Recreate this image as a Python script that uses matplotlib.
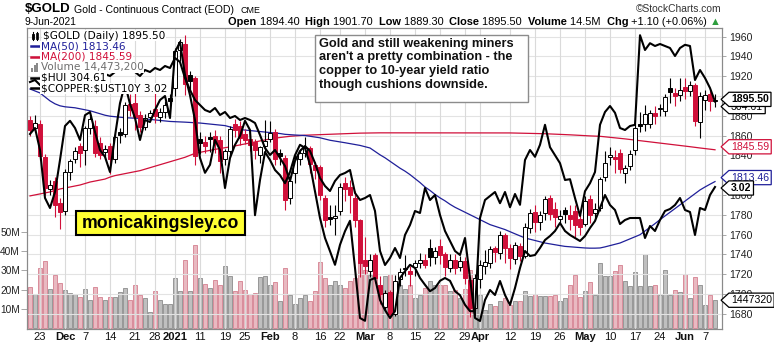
import numpy as np
import pandas as pd
import matplotlib
matplotlib.use("Agg")
import matplotlib.pyplot as plt
from matplotlib.path import Path
from matplotlib.patches import Rectangle
from matplotlib.lines import Line2D
from matplotlib.transforms import blended_transform_factory, offset_copy

plt.rcParams['font.family'] = ['Liberation Sans', 'DejaVu Sans']

# ---- data (one value per trading day) ----
start_date, end_date = '2020-11-19', '2021-06-09'
holidays = ['2020-11-26', '2020-12-25', '2021-01-01', '2021-01-18',
            '2021-02-15', '2021-04-02', '2021-05-31']

opens = [1876, 1868, 1872, 1838, 1806, 1814, 1792, 1784, 1823, 1836,
         1849, 1845, 1868, 1870, 1852, 1843, 1849, 1836, 1864, 1862,
         1892, 1893, 1881, 1869, 1879, 1887, 1879, 1884, 1898, 1908,
         1946, 1952, 1921, 1918, 1856, 1853, 1858, 1860, 1855, 1836,
         1844, 1872, 1870, 1862, 1856, 1853, 1840, 1849, 1856, 1864,
         1842, 1837, 1797, 1822, 1836, 1842, 1847, 1830, 1828, 1797,
         1778, 1777, 1784, 1812, 1808, 1797, 1775, 1734, 1723, 1739,
         1709, 1687, 1702, 1680, 1715, 1725, 1723, 1727, 1731, 1734,
         1746, 1737, 1748, 1740, 1726, 1734, 1727, 1733, 1714, 1686,
         1715, 1728, 1731, 1746, 1741, 1759, 1746, 1735, 1748, 1738,
         1767, 1783, 1773, 1782, 1797, 1786, 1776, 1785, 1780, 1784,
         1776, 1771, 1796, 1782, 1787, 1818, 1838, 1838, 1842, 1822,
         1829, 1845, 1872, 1872, 1872, 1883, 1887, 1885, 1908, 1903,
         1901, 1909, 1905, 1911, 1874, 1896, 1902, 1894.4]
highs = [1880, 1881, 1876, 1841, 1815, 1818, 1797, 1826, 1836, 1848,
         1852, 1870, 1880, 1876, 1858, 1850, 1852, 1862, 1868, 1894,
         1902, 1906, 1885, 1882, 1886, 1906, 1888, 1895, 1902, 1948,
         1957, 1962, 1925, 1920, 1864, 1860, 1864, 1866, 1860, 1846,
         1870, 1877, 1875, 1867, 1862, 1856, 1849, 1876, 1875, 1867,
         1846, 1840, 1818, 1841, 1846, 1859, 1849, 1833, 1830, 1800,
         1790, 1790, 1812, 1818, 1815, 1804, 1776, 1757, 1740, 1741,
         1718, 1704, 1704, 1719, 1726, 1739, 1728, 1734, 1741, 1740,
         1755, 1747, 1755, 1742, 1740, 1740, 1738, 1737, 1717, 1720,
         1734, 1744, 1748, 1748, 1764, 1762, 1750, 1752, 1751, 1772,
         1786, 1790, 1784, 1799, 1800, 1793, 1785, 1788, 1790, 1790,
         1782, 1799, 1800, 1792, 1818, 1844, 1848, 1845, 1846, 1830,
         1845, 1872, 1884, 1891, 1886, 1890, 1892, 1902, 1918, 1908,
         1918, 1918, 1915, 1913, 1904, 1906, 1907, 1901.7]
lows = [1860, 1864, 1835, 1800, 1800, 1778, 1766, 1780, 1815, 1832,
        1828, 1830, 1862, 1838, 1836, 1836, 1821, 1832, 1852, 1858,
        1880, 1866, 1864, 1866, 1876, 1873, 1874, 1878, 1887, 1900,
        1935, 1901, 1905, 1830, 1841, 1842, 1843, 1842, 1822, 1830,
        1838, 1859, 1850, 1851, 1844, 1836, 1832, 1842, 1853, 1830,
        1830, 1785, 1791, 1812, 1830, 1838, 1822, 1816, 1795, 1768,
        1770, 1760, 1780, 1794, 1782, 1768, 1717, 1720, 1717, 1711,
        1690, 1684, 1676, 1678, 1708, 1718, 1708, 1718, 1726, 1726,
        1728, 1730, 1730, 1718, 1722, 1720, 1723, 1710, 1677, 1678,
        1706, 1720, 1726, 1732, 1735, 1731, 1725, 1730, 1733, 1736,
        1762, 1763, 1765, 1775, 1775, 1768, 1771, 1772, 1765, 1757,
        1760, 1769, 1772, 1775, 1784, 1814, 1830, 1822, 1822, 1812,
        1825, 1840, 1864, 1865, 1868, 1872, 1880, 1880, 1893, 1890,
        1895, 1897, 1900, 1870, 1857, 1886, 1885, 1889.3]
closes = [1866, 1873, 1839, 1807, 1810, 1790, 1783, 1823, 1834, 1844,
          1842, 1868, 1877, 1842, 1840, 1846, 1836, 1859, 1861, 1891,
          1886, 1879, 1869, 1878, 1883, 1880, 1884, 1891, 1895, 1945,
          1954, 1912, 1915, 1839, 1852, 1849, 1856, 1852, 1834, 1844,
          1867, 1866, 1857, 1855, 1850, 1845, 1848, 1854, 1863, 1836,
          1839, 1795, 1814, 1837, 1842, 1847, 1831, 1825, 1800, 1775,
          1776, 1779, 1808, 1806, 1800, 1775, 1731, 1728, 1734, 1716,
          1700, 1701, 1680, 1713, 1722, 1726, 1720, 1731, 1734, 1729,
          1737, 1743, 1739, 1727, 1734, 1726, 1733, 1716, 1686, 1716,
          1729, 1732, 1745, 1742, 1759, 1746, 1736, 1749, 1738, 1768,
          1782, 1773, 1780, 1796, 1781, 1778, 1779, 1781, 1776, 1770,
          1768, 1794, 1780, 1786, 1816, 1832, 1840, 1836, 1826, 1827,
          1841, 1868, 1870, 1882, 1883, 1880, 1888, 1899, 1904, 1900,
          1906, 1905, 1911, 1875, 1900, 1901, 1894.4, 1895.5]
# volume in millions of contracts
volumes = [21.2, 17.5, 31.0, 34.9, 20.1, 27.4, 23.3, 19.8, 18.1, 17.5,
           16.3, 20.1, 14.6, 21.2, 16.0, 14.6, 16.3, 16.3, 18.9, 20.6,
           14.6, 22.4, 17.2, 15.8, 8.3, 19.2, 14.5, 12.6, 12.6, 25.9,
           19.2, 35.3, 19.2, 43.2, 26.0, 22.7, 20.8, 24.9, 22.5, 32.2,
           27.2, 19.2, 24.4, 20.0, 17.5, 18.2, 26.4, 27.2, 22.6, 24.0,
           14.0, 31.3, 17.4, 12.5, 15.6, 17.4, 13.9, 19.1, 34.2, 26.0,
           22.6, 24.3, 22.6, 21.0, 24.5, 26.0, 34.0, 30.0, 27.7, 27.7,
           22.6, 26.9, 28.0, 16.5, 22.6, 20.5, 22.6, 15.6, 17.4, 20.8,
           24.3, 22.6, 22.6, 22.6, 19.1, 20.0, 15.6, 20.5, 30.4, 20.8,
           17.4, 9.5, 12.5, 11.2, 13.9, 15.6, 11.8, 14.2, 14.2, 19.1,
           16.5, 17.7, 16.5, 16.9, 16.5, 17.4, 13.9, 15.6, 22.6, 27.5,
           16.0, 19.4, 23.7, 17.4, 33.9, 26.9, 27.0, 29.9, 32.6, 24.3,
           21.7, 29.2, 21.7, 38.5, 21.7, 22.6, 17.4, 30.4, 17.4, 20.0,
           18.7, 28.1, 15.6, 26.4, 22.6, 11.8, 17.4, 14.4732]
ma50 = [1907, 1905, 1903, 1899, 1895, 1892, 1890, 1889, 1888.5, 1888,
        1887, 1886, 1885, 1883.5, 1882, 1880.5, 1879.5, 1879, 1878.5, 1878,
        1877.7, 1877.5, 1877.3, 1876.8, 1876.3, 1875.8, 1875.2, 1874.7, 1874.2, 1874,
        1873.8, 1873.5, 1873.2, 1872.9, 1872.6, 1872.1, 1871.6, 1871.1, 1870.6, 1870,
        1868.7, 1867.3, 1866, 1865.5, 1865, 1864.5, 1864, 1863.5, 1863, 1862.5,
        1862, 1861.2, 1860.8, 1860.5, 1860.2, 1860, 1859.2, 1858.5, 1857.7, 1856.5,
        1855.2, 1854.4, 1853.6, 1852.7, 1851.8, 1851, 1850, 1848.7, 1847.4, 1844,
        1840.5, 1837.5, 1834, 1830.5, 1827, 1824, 1820.5, 1816.5, 1812.5, 1808,
        1804.5, 1800.5, 1797, 1794, 1790.5, 1787.5, 1785, 1782.5, 1780, 1777.5,
        1775, 1772.5, 1770, 1768.3, 1766.6, 1765, 1762.8, 1760.7, 1758.6, 1756.5,
        1755.2, 1754, 1752.7, 1751.4, 1750.5, 1749.7, 1748.8, 1748, 1747.6, 1747.2,
        1746.8, 1746.4, 1746.2, 1746.2, 1746.4, 1747.5, 1748.8, 1750, 1751.4, 1753.5,
        1755.5, 1757.6, 1759.8, 1763.5, 1767.3, 1771, 1775, 1778.7, 1782.5, 1786.2,
        1790, 1793.7, 1797.5, 1801.2, 1805, 1808, 1810.8, 1813.46]
ma200 = [1799, 1800, 1801, 1802, 1803, 1804.5, 1806, 1807, 1808, 1809,
         1810, 1811.5, 1813, 1814, 1815, 1816, 1818, 1819.5, 1820.5, 1821.5,
         1822.5, 1823.5, 1824.5, 1826, 1827.5, 1829, 1830.5, 1832, 1833.5, 1835,
         1836.5, 1838, 1840, 1842, 1843, 1844, 1845, 1846, 1846.8, 1847.5,
         1848.5, 1849.5, 1850.5, 1851.5, 1852.5, 1853.5, 1854.5, 1855.5, 1856.5, 1857.3,
         1858, 1858.6, 1859.2, 1859.6, 1860, 1860.3, 1860.5, 1860.7, 1860.9, 1861,
         1861.2, 1861.4, 1861.6, 1861.8, 1862, 1862.2, 1862.4, 1862.5, 1862.6, 1862.7,
         1862.7, 1862.7, 1862.7, 1862.7, 1862.7, 1862.7, 1862.7, 1862.7, 1862.7, 1862.7,
         1862.7, 1862.7, 1862.7, 1862.7, 1862.7, 1862.7, 1862.7, 1862.7, 1862.7, 1862.7,
         1862.7, 1862.7, 1862.7, 1862.7, 1862.7, 1862.7, 1862.6, 1862.5, 1862.4, 1862.3,
         1862.2, 1862.1, 1862, 1861.8, 1861.6, 1861.4, 1861.2, 1861, 1860.7, 1860.4,
         1860.1, 1859.8, 1859.6, 1859.4, 1859.2, 1858.7, 1858.2, 1857.7, 1857.2, 1856.6,
         1856, 1855.4, 1854.8, 1854.2, 1853.6, 1853, 1852.4, 1851.8, 1851.2, 1850.6,
         1850, 1849.3, 1848.7, 1848, 1847.4, 1846.8, 1846.2, 1845.59]
hui = [296.5, 298.0, 292.5, 280.5, 278.0, 282.0, 290.0, 298.5, 299.8, 298.0,
       295.0, 301.2, 302.0, 297.0, 292.5, 290.8, 287.0, 296.0, 304.2, 309.0,
       304.0, 300.5, 295.0, 300.0, 299.5, 302.5, 305.0, 306.0, 300.5, 317.0,
       319.5, 311.2, 306.2, 300.0, 290.5, 286.8, 288.8, 295.0, 292.5, 283.0,
       290.5, 293.8, 296.0, 299.8, 297.5, 276.2, 285.0, 292.0, 290.0, 287.5,
       286.2, 284.2, 287.0, 291.2, 293.8, 293.0, 288.8, 282.2, 275.5, 270.5,
       267.2, 263.8, 268.8, 272.2, 274.8, 263.0, 250.5, 249.8, 260.0, 260.5,
       255.0, 252.5, 250.5, 252.2, 260.5, 262.2, 263.8, 263.0, 260.5, 258.8,
       257.2, 258.0, 259.8, 260.5, 259.8, 257.2, 256.2, 253.8, 252.2, 252.2,
       275.5, 280.0, 281.0, 282.0, 279.2, 282.0, 278.2, 281.5, 278.8, 290.0,
       292.5, 290.8, 293.8, 298.8, 293.2, 291.2, 289.2, 285.0, 285.2, 280.5,
       276.0, 282.2, 284.2, 287.0, 298.8, 302.0, 303.5, 301.8, 298.0, 297.5,
       298.5, 298.8, 321.2, 317.5, 319.2, 318.5, 319.0, 318.5, 318.0, 316.0,
       318.0, 318.8, 318.5, 310.0, 312.5, 310.5, 308.0, 304.61]
copper_ratio = [3.545, 3.555, 3.530, 3.535, 3.515, 3.505, 3.495, 3.525, 3.555, 3.565,
                3.545, 3.575, 3.585, 3.555, 3.565, 3.585, 3.575, 3.595, 3.615, 3.630,
                3.605, 3.595, 3.575, 3.605, 3.595, 3.615, 3.605, 3.625, 3.615, 3.665,
                3.645, 3.565, 3.505, 3.455, 3.430, 3.405, 3.395, 3.415, 3.380, 3.395,
                3.365, 3.375, 3.355, 3.365, 3.355, 3.340, 3.280, 3.215, 3.180, 3.205,
                3.165, 3.125, 3.050, 3.150, 3.200, 3.225, 3.200, 3.140, 3.065, 3.025,
                3.000, 3.050, 3.080, 3.090, 3.105, 2.990, 2.955, 2.965, 2.980, 2.900,
                2.700, 2.630, 2.665, 2.715, 2.665, 2.780, 2.830, 2.900, 2.890, 3.015,
                2.955, 2.980, 2.880, 2.800, 2.750, 2.700, 2.680, 2.765, 2.565, 2.365,
                2.350, 2.455, 2.505, 2.480, 2.550, 2.480, 2.430, 2.515, 2.615, 2.700,
                2.675, 2.680, 2.715, 2.755, 2.775, 2.800, 2.840, 2.800, 2.780, 2.765,
                2.750, 2.775, 2.815, 2.850, 2.915, 2.980, 2.930, 2.905, 2.835, 2.855,
                2.865, 2.865, 2.865, 2.765, 2.825, 2.800, 2.855, 2.900, 2.910, 2.930,
                2.965, 2.905, 2.895, 2.780, 2.915, 2.905, 2.980, 3.02]

tick_dates = ['2020-11-23', '2020-12-01', '2020-12-07', '2020-12-14', '2020-12-21',
              '2020-12-28', '2021-01-04', '2021-01-11', '2021-01-19', '2021-01-25',
              '2021-02-01', '2021-02-08', '2021-02-16', '2021-02-22', '2021-03-01',
              '2021-03-08', '2021-03-15', '2021-03-22', '2021-03-29', '2021-04-01',
              '2021-04-12', '2021-04-19', '2021-04-26', '2021-05-03', '2021-05-10',
              '2021-05-17', '2021-05-24', '2021-06-01', '2021-06-07']
tick_labels = ['23', 'Dec', '7', '14', '21', '28', '2021', '11', '19', '25', 'Feb', '8',
               '16', '22', 'Mar', '8', '15', '22', '29', 'Apr', '12', '19', '26', 'May',
               '10', '17', '24', 'Jun', '7']
month_labels = {'Dec', '2021', 'Feb', 'Mar', 'Apr', 'May', 'Jun'}

note = ("Gold and still weakening miners\n"
        "aren't a pretty combination - the\n"
        "copper to 10-year yield ratio\n"
        "though cushions downside.")

RED = '#d0103a'
NAVY = '#1f1f99'

# ---- layout, in pixels of the 774x345 picture ----
W, H = 774, 345
fig = plt.figure(figsize=(W / 100, H / 100), dpi=100)
fig.patch.set_facecolor('white')


def fx(px):
    return px / W


def fy(py):
    return 1 - py / H


L, R, T, B = 27, 722, 28, 329
ax_vol = fig.add_axes([fx(L), fy(B), (R - L) / W, (B - T) / H])
ax = ax_vol.twinx()
ax_hui = ax_vol.twinx()
ax_cu = ax_vol.twinx()

dates = pd.bdate_range(start_date, end_date).drop(pd.to_datetime(holidays))
tick_idx = [dates.get_loc(pd.Timestamp(d)) for d in tick_dates]

o, hi, lo, c = (np.array(v, dtype=float) for v in (opens, highs, lows, closes))
n = len(c)
xs = np.arange(n)
up = np.r_[False, c[1:] >= c[:-1]]

# volume bars (behind everything)
ax_vol.bar(xs, volumes, width=0.82,
           color=np.where(up, '#bfbfbf', '#e9b9c1'),
           edgecolor=np.where(up, '#8c8c8c', '#d4808f'), linewidth=0.6, zorder=2)
ax_vol.set_facecolor('white')

# grid on the price panel
for p in range(1680, 1961, 20):
    ax.axhline(p, color='#e3e3e3', lw=0.8, zorder=0)
for t in tick_idx:
    ax.axvline(t, color='#dadada', lw=0.8, zorder=0)

# moving averages
ax.plot(xs, ma200, color=RED, lw=0.9, zorder=2)
ax.plot(xs, ma50, color=NAVY, lw=0.9, zorder=2)

# candles
for i in range(n):
    col = 'black' if up[i] else RED
    ax.vlines(i, lo[i], hi[i], color=col, lw=0.8, zorder=3)
    bottom = min(o[i], c[i])
    height = max(abs(c[i] - o[i]), 0.8)
    face = 'white' if c[i] > o[i] else col
    ax.add_patch(Rectangle((i - 0.35, bottom), 0.7, height, facecolor=face,
                           edgecolor=col, lw=0.7, zorder=4))

# overlays on their own hidden scales
ax_hui.plot(xs, hui, color='black', lw=1.5)
ax_cu.plot(xs, copper_ratio, color='black', lw=1.5)

ax_vol.set_xlim(-0.6, n + 0.4)
ax.set_ylim(1664.55, 1968.6)
ax_vol.set_ylim(-0.52, 156.25)
ax_hui.set_ylim(247.75, 323.0)
ax_cu.set_ylim(2.31, 3.815)
ax_hui.set_axis_off()
ax_cu.set_axis_off()

ax.set_yticks(range(1680, 1961, 20))
ax.tick_params(axis='y', length=3, width=0.6, color='#999999', pad=2,
               labelsize=7.6, labelcolor='#222222')
ax_vol.set_yticks([10, 20, 30, 40, 50])
ax_vol.set_yticklabels(['10M', '20M', '30M', '40M', '50M'])
ax_vol.tick_params(axis='y', length=4, width=0.6, color='#999999', pad=1,
                   labelsize=7.3, labelcolor='#222222')
ax_vol.set_xticks(tick_idx)
ax_vol.set_xticklabels(tick_labels)
ax_vol.tick_params(axis='x', length=0, pad=2.5, labelsize=8, labelcolor='#111111')
for lbl, txt in zip(ax_vol.get_xticklabels(), tick_labels):
    if txt in month_labels:
        lbl.set_fontweight('bold')
for a in (ax_vol, ax):
    for s in a.spines.values():
        s.set_color('#8a8a8a')
        s.set_linewidth(0.8)


# value tags on the right edge
def tag_path(x0, y0, width, height, mutation_size):
    pad = 0.2 * mutation_size
    x0, y0 = x0 - pad, y0 - pad
    width, height = width + 2 * pad, height + 2 * pad
    tip = 0.55 * height
    verts = [(x0 - tip, y0 + height / 2), (x0, y0), (x0 + width, y0),
             (x0 + width, y0 + height), (x0, y0 + height), (x0 - tip, y0 + height / 2)]
    return Path(verts, closed=True)


volume_last = int(round(volumes[-1] * 1e6))
# (axes, value, text, colour, weight, vertical nudge in pixels to keep tags apart)
tags = [(ax_hui, hui[-1], f"{hui[-1]:.2f}", 'black', 'normal', -5),
        (ax, c[-1], f"{c[-1]:.2f}", 'black', 'bold', 1),
        (ax, ma200[-1], f"{ma200[-1]:.2f}", RED, 'normal', 3),
        (ax, ma50[-1], f"{ma50[-1]:.2f}", NAVY, 'normal', 4),
        (ax_cu, copper_ratio[-1], f"{copper_ratio[-1]:.2f}", 'black', 'bold', -1),
        (ax_vol, volumes[-1], str(volume_last)[:7], 'black', 'normal', 0)]
tag_x = 1 + 9.0 / (R - L)
for a, v, s, col, wt, dy in tags:
    trans = blended_transform_factory(ax_cu.transAxes, a.transData)
    ax_cu.text(tag_x, v, s, transform=offset_copy(trans, fig=fig, y=dy, units='dots'),
               ha='left', va='center', fontsize=7.6, fontweight=wt, color=col,
               clip_on=False, zorder=10,
               bbox=dict(boxstyle=tag_path, facecolor='white', edgecolor=col, linewidth=0.9))

# legend block in the top-left corner
leg_font = 'DejaVu Sans'
rows = [(35.7, f"\\$GOLD (Daily) {c[-1]:.2f}", 'black', 43),
        (46.2, f"MA(50) {ma50[-1]:.2f}", NAVY, 41),
        (56.7, f"MA(200) {ma200[-1]:.2f}", RED, 41),
        (67.2, f"Volume {volume_last:,}", '#6e6e6e', 41),
        (77.7, f"\\$HUI {hui[-1]:.2f}", 'black', 41),
        (88.2, f"\\$COPPER:\\$UST10Y {copper_ratio[-1]:.2f}", 'black', 41)]
for yy, s, col, x0 in rows:
    fig.text(fx(x0), fy(yy), s, fontsize=7.6, family=leg_font, color=col, va='center',
             bbox=dict(boxstyle='square,pad=0.05', facecolor='white', edgecolor='none'))
for yy, col in [(46.2, NAVY), (56.7, RED), (77.7, 'black'), (88.2, 'black')]:
    fig.add_artist(Line2D([fx(31), fx(39)], [fy(yy), fy(yy)], color=col, lw=1.8))
# tiny candle icon and volume icon
fig.add_artist(Line2D([fx(33), fx(33)], [fy(31.5), fy(40)], color='black', lw=0.8))
fig.add_artist(Rectangle((fx(31.8), fy(38.5)), 2.4 / W, 5 / H, facecolor='black',
                         edgecolor='black', lw=0.6))
fig.add_artist(Line2D([fx(37), fx(37)], [fy(31.5), fy(40)], color='black', lw=0.8))
fig.add_artist(Rectangle((fx(35.8), fy(39)), 2.4 / W, 6 / H, facecolor='white',
                         edgecolor='black', lw=0.6))
for k, hgt in enumerate([4, 7, 9]):
    fig.add_artist(Rectangle((fx(31 + 2.7 * k), fy(72)), 2 / W, hgt / H,
                             facecolor='#8a8a8a', edgecolor='none'))

# header lines
fig.text(fx(25), fy(9.5), '\\$GOLD', fontsize=9.5, fontweight='bold', va='center')
fig.text(fx(74), fy(10), 'Gold - Continuous Contract (EOD)', fontsize=7.6, va='center')
fig.text(fx(241), fy(10.5), 'CME', fontsize=6.4, va='center')
fig.text(fx(721), fy(9.5), '\u00a9StockCharts.com', fontsize=7.4, ha='right', va='center',
         color='#333333')
fig.text(fx(25), fy(22), '9-Jun-2021', fontsize=7.4, va='center')

chg = c[-1] - c[-2]
pieces = [('Open ', 'bold', 'black'), (f"{o[-1]:.2f}  ", 'normal', 'black'),
          ('High ', 'bold', 'black'), (f"{hi[-1]:.2f}  ", 'normal', 'black'),
          ('Low ', 'bold', 'black'), (f"{lo[-1]:.2f}  ", 'normal', 'black'),
          ('Close ', 'bold', 'black'), (f"{c[-1]:.2f}  ", 'normal', 'black'),
          ('Volume ', 'bold', 'black'), (f"{volumes[-1]:.1f}M  ", 'normal', 'black'),
          ('Chg ', 'bold', 'black'),
          (f"{chg:+.2f} ({chg / c[-2] * 100:+.2f}%) ", 'normal', 'black'),
          ('\u25b2', 'normal', '#2e9e3e')]
renderer = fig.canvas.get_renderer()
texts, xpos = [], 0.0
for s, wt, col in pieces:
    t = fig.text(0, fy(22), s, fontsize=7.9, fontweight=wt, color=col, va='center')
    texts.append((t, xpos))
    xpos += t.get_window_extent(renderer).width
shift = 721 - xpos
for t, x0 in texts:
    t.set_x(fx(shift + x0))

# comment box
fig.add_artist(Rectangle((fx(315), fy(102)), (528 - 315) / W, (102 - 35) / H,
                         facecolor='white', edgecolor='#8c8c8c', lw=1.0))
fig.text(fx(319), fy(37.5), note, fontsize=9.2, fontweight='bold', va='top', ha='left',
         linespacing=1.2, color='#111111')

# watermark
fig.add_artist(Rectangle((fx(76), fy(235)), (245 - 76) / W, (235 - 211) / H,
                         facecolor='#ffff33', edgecolor='black', lw=1.5))
fig.text(fx(160.5), fy(223.5), 'monicakingsley.co', fontsize=12.7, fontweight='bold',
         ha='center', va='center')

fig.savefig('out.png', dpi=100, facecolor='white')
